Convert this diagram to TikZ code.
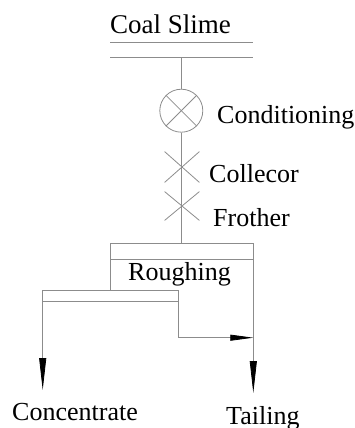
\documentclass[tikz,border=0pt]{standalone}
\usepackage{fontspec}
\setmainfont{Liberation Serif}
\usetikzlibrary{arrows.meta,shapes.misc}

\begin{document}
\begin{tikzpicture}
[x=1pt,y=-1pt,
  flowLine/.style={draw=black!45,line width=0.8pt},%
  tagText/.style={anchor=base west,inner sep=0pt,font=\fontsize{26}{30}\selectfont},%
  crossMark/.style={cross out,draw=black!45,line width=0.8pt,minimum width=34pt,minimum height=30pt,inner sep=0pt},%
  longHead/.style={-{Triangle[length=32pt,width=7pt,color=black]}},%
  shortHead/.style={-{Triangle[length=23pt,width=6pt,color=black]}}]
\useasboundingbox (0,0) rectangle (355,428);
%% points of the bars and flows
\foreach \pname/\x/\y in {feedAL/110/42.7, feedAR/253/42.7, feedBL/110/57.7, feedBR/253/57.7,
  feedOut/181.3/57.7, roughIn/181.3/243.3, roughAL/110.7/243.3, roughAR/253.3/243.3,
  roughBL/110.7/259.3, roughBR/253.3/259.3, roughOut/110.7/290,
  concAL/42.7/290, concAR/178.3/290, concBL/42.7/301.7, concBR/178.3/301.7,
  concTip/42.7/390, concTurn/178.3/337.7, tailJoin/253.3/337.7, tailTip/253.3/393}
{
  \coordinate (\pname) at (\x,\y);
}
%% units
\node (cond) at (181.3,110.7) [circle,flowLine,minimum size=43pt,inner sep=0pt] {};
\node (coll) at (182,167) [crossMark] {};
\node (froth) at (182,206) [crossMark,minimum height=28pt] {};
%% texts
\node (coalText) at (110,33.3) [tagText,font=\fontsize{27}{32}\selectfont] {Coal Slime};
\node (condText) at (217,123.5) [tagText] {Conditioning};
\node (collText) at (209,182.5) [tagText] {Collecor};
\node (frothText) at (213,226.7) [tagText] {Frother};
\node (roughText) at (128,280) [tagText] {Roughing};
\node (concText) at (12,420) [tagText] {Concentrate};
\node (tailText) at (226,424) [tagText] {Tailing};
%% lines
\draw[flowLine] (cond.north west) -- (cond.south east);
\draw[flowLine] (cond.north east) -- (cond.south west);
\path[flowLine]
\foreach \startnode/\endnode in {feedAL/feedAR, feedBL/feedBR, feedOut/cond, cond/roughIn,
  roughAL/roughAR, roughBL/roughBR, roughAL/roughOut, concAL/concAR, concBL/concBR}
{
  (\startnode) edge (\endnode)
};
\draw[flowLine,longHead] (concAL) -- (concTip);
\draw[flowLine,longHead] (roughAR) -- (tailTip);
\draw[flowLine,shortHead] (concAR) -- (concTurn) -- (tailJoin);
\end{tikzpicture}
\end{document}
